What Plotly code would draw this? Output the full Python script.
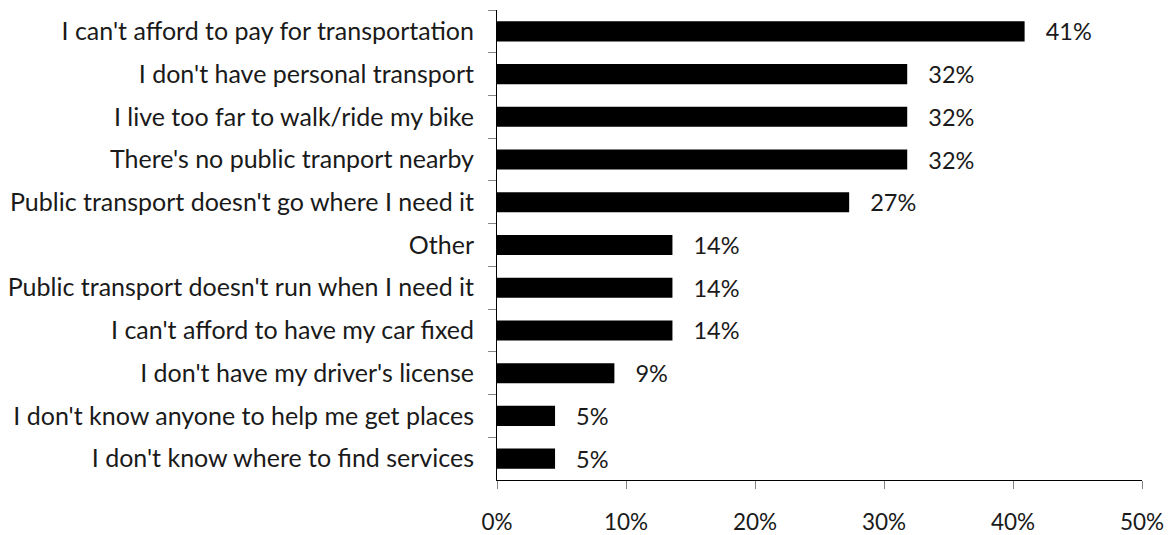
import plotly.graph_objects as go

# Reasons respondents gave for transportation barriers (share of respondents, %)
reasons = [
    "I can't afford to pay for transportation",
    "I don't have personal transport",
    "I live too far to walk/ride my bike",
    "There's no public tranport nearby",
    "Public transport doesn't go where I need it",
    "Other",
    "Public transport doesn't run when I need it",
    "I can't afford to have my car fixed",
    "I don't have my driver's license",
    "I don't know anyone to help me get places",
    "I don't know where to find services",
]
shares = [40.9, 31.8, 31.8, 31.8, 27.3, 13.6, 13.6, 13.6, 9.1, 4.5, 4.5]

x_ticks = [0, 10, 20, 30, 40, 50]
x_tick_labels = ["0%", "10%", "20%", "30%", "40%", "50%"]

FONT = "Lato"
TEXT_COLOR = "#1a1a1a"

fig = go.Figure(
    go.Bar(
        x=shares,
        y=reasons,
        orientation="h",
        marker=dict(color="#000000", line=dict(width=0)),
        text=shares,
        texttemplate="\u00a0\u00a0\u00a0%{x:.0f}%",
        textposition="outside",
        constraintext="none",
        textfont=dict(family=FONT, size=23.5, color=TEXT_COLOR),
        cliponaxis=False,
        hoverinfo="skip",
    )
)

fig.update_layout(
    width=1174,
    height=535,
    margin=dict(l=497, r=32, t=10, b=55),
    paper_bgcolor="white",
    plot_bgcolor="white",
    bargap=0.53,
    showlegend=False,
    font=dict(family=FONT, size=23.5, color=TEXT_COLOR),
)

fig.update_xaxes(
    range=[0, 50],
    tickvals=x_ticks,
    ticktext=x_tick_labels,
    showgrid=False,
    zeroline=False,
    showline=True,
    linecolor="#000000",
    linewidth=1,
    ticks="outside",
    ticklen=8,
    tickcolor="#868686",
    ticklabelstandoff=14,
    automargin=False,
    tickfont=dict(family=FONT, size=22.5, color=TEXT_COLOR),
)

fig.update_yaxes(
    categoryorder="array",
    categoryarray=reasons,
    range=[len(reasons) - 0.5, -0.5],
    showgrid=False,
    zeroline=False,
    showline=True,
    linecolor="#000000",
    linewidth=1,
    ticks="outside",
    tickson="boundaries",
    ticklen=8,
    tickcolor="#868686",
    ticklabelstandoff=17,
    automargin=False,
    tickfont=dict(family=FONT, size=25, color=TEXT_COLOR),
)

fig.write_html("out.html")
